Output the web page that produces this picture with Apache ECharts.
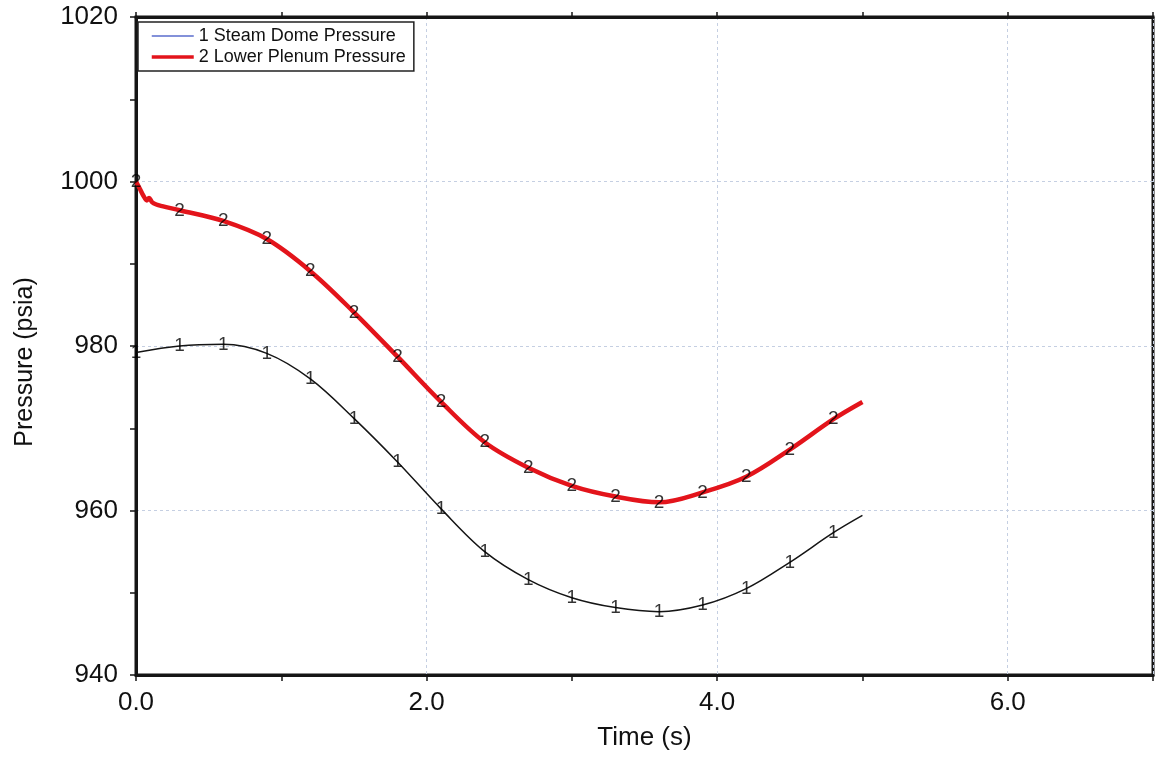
<!DOCTYPE html>
<html>
<head>
<meta charset="utf-8">
<script src="https://cdn.jsdelivr.net/npm/echarts@6/dist/echarts.min.js"></script>
<style>
html,body{margin:0;padding:0;background:#fff;}
#chart{width:1156px;height:757px;}
</style>
</head>
<body>
<div id="chart"></div>
<script>
// ---- data ----
const seriesNames = ['1 Steam Dome Pressure', '2 Lower Plenum Pressure'];
const markerChars = ['1', '2'];

const steamTime = [0, 0.3, 0.6, 0.9, 1.2, 1.5, 1.8, 2.1, 2.4, 2.7, 3.0, 3.3, 3.6, 3.9, 4.2, 4.5, 4.8, 5.0];
const steamP    = [979.2, 980.0, 980.2, 979.1, 976.0, 971.2, 965.9, 960.2, 955.0, 951.6, 949.4, 948.2, 947.7, 948.5, 950.5, 953.7, 957.3, 959.4];

const plenumTime = [0, 0.03, 0.05, 0.075, 0.09, 0.11, 0.14, 0.18, 0.3, 0.6, 0.9, 1.2, 1.5, 1.8, 2.1, 2.4, 2.7, 3.0, 3.3, 3.6, 3.9, 4.2, 4.5, 4.8, 5.0];
const plenumP    = [1000.0, 999.0, 998.3, 997.7, 998.0, 997.5, 997.2, 997.0, 996.5, 995.2, 993.0, 989.1, 984.1, 978.7, 973.2, 968.3, 965.2, 963.0, 961.7, 961.0, 962.2, 964.1, 967.4, 971.1, 973.2];

// marker labels are placed every 0.3 s along each curve
const markerStep = 0.3;
const markerEnd = 4.8;

const xTickLabels = ['0.0', '2.0', '4.0', '6.0'];
const yTickLabels = ['940', '960', '980', '1000', '1020'];

// ---- build ----
function pairs(t, v) { return t.map((x, i) => [x, v[i]]); }
function markers(t, v) {
  const out = [];
  t.forEach((x, i) => {
    const k = x / markerStep;
    if (Math.abs(k - Math.round(k)) < 1e-6 && x <= markerEnd + 1e-9) out.push([x, v[i]]);
  });
  return out;
}

const FONT = '"Liberation Sans", Arial, Helvetica, sans-serif';
const GRIDLINE = { show: true, lineStyle: { color: '#c5cfe2', type: [3, 3], width: 1 } };
const NOSYM = { color: 'rgba(0,0,0,0)', borderWidth: 0 };

const chart = echarts.init(document.getElementById('chart'), null, { renderer: 'canvas' });

const option = {
  backgroundColor: '#ffffff',
  animation: false,
  grid: { left: 136, right: 2, top: 17, bottom: 82, show: true, borderColor: '#151515', borderWidth: 3, backgroundColor: 'transparent' },
  legend: {
    left: 138, top: 22, orient: 'vertical',
    backgroundColor: '#ffffff', borderColor: '#222', borderWidth: 1.5,
    padding: [5, 8, 5, 12],
    itemWidth: 42, itemHeight: 14, itemGap: 3,
    textStyle: { fontFamily: FONT, fontSize: 18, color: '#111' },
    data: [
      { name: seriesNames[0], lineStyle: { color: '#5a6dcc', width: 1.6 }, itemStyle: NOSYM },
      { name: seriesNames[1], lineStyle: { color: '#e3141b', width: 3.5 }, itemStyle: NOSYM }
    ]
  },
  xAxis: [
    {
      type: 'value', min: 0, max: 7, interval: 1, position: 'bottom',
      name: 'Time (s)', nameLocation: 'middle', nameGap: 50,
      nameTextStyle: { fontFamily: FONT, fontSize: 26, color: '#111' },
      axisLine: { show: true, onZero: false, lineStyle: { color: '#151515', width: 3 } },
      axisTick: { show: true, inside: false, length: 6, lineStyle: { color: '#151515', width: 1.5 } },
      axisLabel: {
        fontFamily: FONT, fontSize: 26, color: '#111', margin: 15,
        formatter: v => { const i = xTickLabels.indexOf(v.toFixed(1)); return i >= 0 ? xTickLabels[i] : ''; }
      },
      splitLine: { show: false }
    },
    {
      type: 'value', min: 0, max: 7, interval: 1, position: 'top',
      axisLine: { show: true, onZero: false, lineStyle: { color: '#151515', width: 3 } },
      axisTick: { show: true, inside: false, length: 5, lineStyle: { color: '#151515', width: 1.5 } },
      axisLabel: { show: false },
      splitLine: { show: false }
    },
    {
      type: 'value', min: 0, max: 7, interval: 2, position: 'bottom',
      axisLine: { show: false }, axisTick: { show: false }, axisLabel: { show: false },
      splitLine: GRIDLINE
    }
  ],
  yAxis: [
    {
      type: 'value', min: 940, max: 1020, interval: 10, position: 'left',
      name: 'Pressure (psia)', nameLocation: 'middle', nameGap: 98,
      nameTextStyle: { fontFamily: FONT, fontSize: 25, color: '#111', padding: [0, 32, 0, 0] },
      axisLine: { show: true, onZero: false, lineStyle: { color: '#151515', width: 3 } },
      axisTick: { show: true, inside: false, length: 6, lineStyle: { color: '#151515', width: 1.5 } },
      axisLabel: {
        fontFamily: FONT, fontSize: 26, color: '#111', margin: 18,
        formatter: v => { const i = yTickLabels.indexOf(String(v)); return i >= 0 ? yTickLabels[i] : ''; }
      },
      splitLine: { show: false }
    },
    {
      type: 'value', min: 940, max: 1020, interval: 20, position: 'left',
      axisLine: { show: false }, axisTick: { show: false }, axisLabel: { show: false },
      splitLine: GRIDLINE
    }
  ],
  series: [
    {
      name: seriesNames[0], type: 'line', xAxisIndex: 0, yAxisIndex: 0,
      data: pairs(steamTime, steamP), smooth: 0.35, symbol: 'none',
      lineStyle: { color: '#151515', width: 1.5 }, itemStyle: { color: '#151515' }, z: 3
    },
    {
      name: seriesNames[1], type: 'line', xAxisIndex: 0, yAxisIndex: 0,
      data: pairs(plenumTime, plenumP), smooth: 0.35, symbol: 'none',
      lineStyle: { color: '#e3141b', width: 4.5 }, itemStyle: { color: '#e3141b' }, z: 3
    },
    {
      name: 'm1', type: 'scatter', xAxisIndex: 0, yAxisIndex: 0,
      data: markers(steamTime, steamP), symbolSize: 1,
      itemStyle: { color: 'rgba(0,0,0,0)' },
      label: { show: true, position: 'inside', formatter: markerChars[0], fontFamily: FONT, fontSize: 19, color: '#000' },
      z: 5, silent: true
    },
    {
      name: 'm2', type: 'scatter', xAxisIndex: 0, yAxisIndex: 0,
      data: markers(plenumTime, plenumP), symbolSize: 1,
      itemStyle: { color: 'rgba(0,0,0,0)' },
      label: { show: true, position: 'inside', formatter: markerChars[1], fontFamily: FONT, fontSize: 19, color: '#000' },
      z: 5, silent: true
    }
  ]
};
chart.setOption(option);
</script>
</body>
</html>
